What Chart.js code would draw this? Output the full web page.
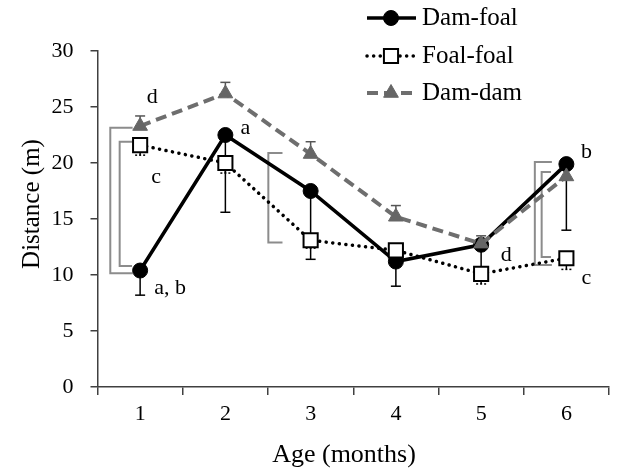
<!DOCTYPE html>
<html>
<head>
<meta charset="utf-8">
<script src="https://cdn.jsdelivr.net/npm/chart.js@4"></script>
<style>
html,body{margin:0;padding:0;background:#fff;}
#wrap{width:621px;height:469px;}
</style>
</head>
<body>
<div id="wrap"><canvas id="c" width="621" height="469"></canvas></div>
<script>
// ---- data ----
const categories = ['1', '2', '3', '4', '5', '6'];
const seriesNames = ['Dam-foal', 'Foal-foal', 'Dam-dam'];
const damFoal = [10.4, 22.5, 17.5, 11.2, 12.7, 19.9];
const damFoalErrLow = [2.2, 6.9, 6.1, 2.2, 2.6, 5.9];
const foalFoal = [21.6, 20.0, 13.1, 12.2, 10.1, 11.5];
const foalFoalErrLow = [0.9, 0.9, 0.7, 0.7, 0.9, 1.0];
const damDam = [23.3, 26.2, 20.8, 15.2, 12.8, 18.8];
const damDamErrHigh = [0.9, 1.0, 1.1, 1.0, 0.7, 1.0];
const yTicks = [0, 5, 10, 15, 20, 25, 30];

// significance brackets: category index, low value, high value
const bracketCat = [0, 0, 2, 5, 5];
const bracketLow = [10.15, 10.8, 12.9, 10.9, 11.6];
const bracketHigh = [23.15, 21.9, 20.9, 20.1, 19.2];

// letter annotations: text, category, value
const noteText = ['d', 'c', 'a, b', 'a', 'b', 'd', 'c'];
const noteCat = [0, 0, 0, 1, 5, 4, 5];
const noteVal = [25.9, 18.7, 8.8, 23.1, 21.0, 11.8, 9.7];

// ---- styles (positions relative to categories) ----
const FONT = '"Liberation Serif", "Times New Roman", serif';
const bracketX = [-0.35, -0.24, -0.496, -0.37, -0.29];
const bracketArm = [-0.088, -0.095, -0.33, -0.17, -0.18];
const noteDx = [12, 16, 30, 20, 20, 25, 20];
const GRAY = '#6e6e6e';

const errPlugin = {
  id: 'errbars',
  beforeDatasetsDraw(chart) {
    const ctx = chart.ctx, y = chart.scales.y, x = chart.scales.x;
    const cw = (x.getPixelForValue(1) - x.getPixelForValue(0));
    // brackets
    ctx.save();
    ctx.strokeStyle = '#8c8c8c';
    ctx.lineWidth = 2;
    for (let i = 0; i < bracketCat.length; i++) {
      const cx = x.getPixelForValue(bracketCat[i]);
      const bx = cx + bracketX[i] * cw, ax = cx + bracketArm[i] * cw;
      const y1 = y.getPixelForValue(bracketHigh[i]), y2 = y.getPixelForValue(bracketLow[i]);
      ctx.beginPath();
      ctx.moveTo(ax, y1); ctx.lineTo(bx, y1); ctx.lineTo(bx, y2); ctx.lineTo(ax, y2);
      ctx.stroke();
    }
    ctx.restore();
    // error bars
    const specs = [
      {vals: damFoal, err: damFoalErrLow, dir: -1, color: '#000', dash: []},
      {vals: foalFoal, err: foalFoalErrLow, dir: -1, color: '#000', dash: [2, 2]},
      {vals: damDam, err: damDamErrHigh, dir: 1, color: '#555', dash: []}
    ];
    ctx.save();
    ctx.lineWidth = 1.5;
    specs.forEach(s => {
      ctx.strokeStyle = s.color;
      s.vals.forEach((v, j) => {
        const px = x.getPixelForValue(j);
        const p0 = y.getPixelForValue(v);
        const p1 = y.getPixelForValue(v + s.dir * s.err[j]);
        ctx.setLineDash([]);
        ctx.beginPath(); ctx.moveTo(px, p0); ctx.lineTo(px, p1); ctx.stroke();
        ctx.setLineDash(s.dash);
        ctx.beginPath(); ctx.moveTo(px - 5, p1); ctx.lineTo(px + 5, p1); ctx.stroke();
      });
    });
    ctx.restore();
  },
  afterDraw(chart) {
    const ctx = chart.ctx, y = chart.scales.y, x = chart.scales.x;
    ctx.save();
    ctx.fillStyle = '#000';
    ctx.textBaseline = 'middle';
    ctx.textAlign = 'center';
    ctx.font = '22px ' + FONT;
    for (let i = 0; i < noteText.length; i++) {
      ctx.fillText(noteText[i], x.getPixelForValue(noteCat[i]) + noteDx[i], y.getPixelForValue(noteVal[i]));
    }
    // axis titles
    ctx.font = '26px ' + FONT;
    ctx.fillText('Age (months)', 344, 455);
    ctx.save();
    ctx.translate(32, 204);
    ctx.rotate(-Math.PI / 2);
    ctx.font = '25px ' + FONT;
    ctx.fillText('Distance (m)', 0, 0);
    ctx.restore();
    // legend
    const rows = [18, 56, 93];
    chart.data.datasets.forEach((ds, i) => {
      const ly = rows[i];
      ctx.save();
      ctx.strokeStyle = ds.borderColor;
      ctx.lineWidth = ds.borderWidth;
      ctx.lineCap = ds.borderCapStyle || 'butt';
      ctx.setLineDash(ds.borderDash || []);
      ctx.beginPath(); ctx.moveTo(367, ly); ctx.lineTo(416, ly); ctx.stroke();
      ctx.restore();
      ctx.save();
      ctx.fillStyle = ds.pointBackgroundColor;
      ctx.strokeStyle = ds.pointBorderColor;
      ctx.lineWidth = ds.pointBorderWidth;
      Chart.helpers.drawPoint(ctx, {pointStyle: ds.pointStyle, radius: ds.pointRadius, borderWidth: ds.pointBorderWidth, rotation: 0}, 391, ly);
      ctx.restore();
      ctx.textAlign = 'left';
      ctx.font = '25px ' + FONT;
      ctx.fillStyle = '#000';
      ctx.fillText(ds.label, 422, ly);
    });
    ctx.restore();
  }
};

const chart = new Chart(document.getElementById('c'), {
  type: 'line',
  data: {
    labels: categories,
    datasets: [
      {
        label: seriesNames[0], data: damFoal, order: 2,
        borderColor: '#000', borderWidth: 3.5, tension: 0,
        pointStyle: 'circle', pointRadius: 7.5, pointBorderWidth: 1,
        pointBackgroundColor: '#000', pointBorderColor: '#000'
      },
      {
        label: seriesNames[1], data: foalFoal, order: 1,
        borderColor: '#000', borderWidth: 3.5, borderDash: [0.1, 6.5], borderCapStyle: 'round', tension: 0,
        pointStyle: 'rect', pointRadius: 10, pointBorderWidth: 2,
        pointBackgroundColor: '#fff', pointBorderColor: '#000'
      },
      {
        label: seriesNames[2], data: damDam, order: 0,
        borderColor: GRAY, borderWidth: 4, borderDash: [11, 6], tension: 0,
        pointStyle: 'triangle', pointRadius: 8.5, pointBorderWidth: 1,
        pointBackgroundColor: '#666', pointBorderColor: '#666'
      }
    ]
  },
  options: {
    responsive: false,
    animation: false,
    events: [],
    layout: {padding: {top: 51, right: 4, left: 0, bottom: 0}},
    plugins: {legend: {display: false}, tooltip: {enabled: false}},
    scales: {
      x: {
        type: 'category', offset: true,
        grid: {offset: true, drawOnChartArea: false, tickLength: 8, color: '#404040', lineWidth: 1.5},
        border: {color: '#404040', width: 1.5},
        ticks: {font: {family: FONT, size: 22}, color: '#000', padding: 6, maxRotation: 0},
        afterFit(s) { s.height = 82; s.paddingLeft = 0; s.paddingRight = 0; }
      },
      y: {
        min: 0, max: 30,
        afterBuildTicks(s) { s.ticks = yTicks.map(v => ({value: v})); },
        grid: {drawOnChartArea: false, tickLength: 7, color: '#404040', lineWidth: 1.5},
        border: {color: '#404040', width: 1.5},
        ticks: {font: {family: FONT, size: 22}, color: '#000', padding: 17},
        afterFit(s) { s.width = 97.5; s.paddingTop = 0; s.paddingBottom = 0; }
      }
    }
  },
  plugins: [errPlugin]
});
</script>
</body>
</html>
